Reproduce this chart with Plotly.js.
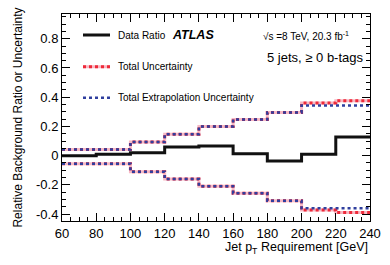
<!DOCTYPE html>
<html><head><meta charset="utf-8">
<script src="https://cdn.plot.ly/plotly-3.0.1.min.js"></script>
<style>html,body{margin:0;padding:0;background:#fff}#c{width:390px;height:265px}</style>
</head><body><div id="c"></div>
<script>
// Bin edges (Jet pT requirement, GeV)
const binEdges = [60, 80, 100, 120, 140, 160, 180, 200, 220, 240];
// Values per bin
const dataRatio   = [0.0, 0.01, 0.02, 0.06, 0.066, 0.013, -0.037, 0.009, 0.127];
const totalUp     = [0.042, 0.042, 0.093, 0.147, 0.2, 0.247, 0.295, 0.36, 0.375];
const totalDown   = [-0.055, -0.055, -0.11, -0.16, -0.21, -0.257, -0.308, -0.372, -0.389];
const extrapUp    = [0.042, 0.042, 0.093, 0.147, 0.2, 0.247, 0.295, 0.343, 0.343];
const extrapDown  = [-0.055, -0.055, -0.11, -0.16, -0.21, -0.257, -0.308, -0.359, -0.359];
const xTicks = [60, 80, 100, 120, 140, 160, 180, 200, 220, 240];
const yTicks = [-0.4, -0.2, 0, 0.2, 0.4, 0.6, 0.8];
const yTickText = ['-0.4', '-0.2', '0', '0.2', '0.4', '0.6', '0.8'];

function stepY(v){ return v.concat([v[v.length-1]]); }

const FONT = 'Liberation Sans, Arial, Helvetica, sans-serif';
const RED = '#ee2a3a', PINK = 'rgba(245,160,175,0.75)', BLUE = '#2f3f9e';

function st(y, color, width, dash){
  return {x: binEdges, y: stepY(y), type:'scatter', mode:'lines', line:{shape:'hv', color:color, width:width, dash:dash}, showlegend:false, hoverinfo:'skip'};
}
const traces = [
  st(totalUp, PINK, 3, 'solid'),
  st(totalDown, PINK, 3, 'solid'),
  st(totalUp, RED, 3, 'dot'),
  st(totalDown, RED, 3, 'dot'),
  st(extrapUp, BLUE, 2.5, '3px,3px'),
  st(extrapDown, BLUE, 2.5, '3px,3px'),
  st(dataRatio, '#111111', 3, 'solid')
];

const px = p => (p-62)/308, py = p => (221-p)/207;
const shapes = [
  {type:'line', xref:'paper', yref:'paper', x0:px(83), x1:px(110), y0:py(35), y1:py(35), line:{color:'#111', width:3}},
  {type:'line', xref:'paper', yref:'paper', x0:px(83), x1:px(110), y0:py(66.7), y1:py(66.7), line:{color:PINK, width:3}},
  {type:'line', xref:'paper', yref:'paper', x0:px(83), x1:px(110), y0:py(66.7), y1:py(66.7), line:{color:RED, width:3, dash:'dot'}},
  {type:'line', xref:'paper', yref:'paper', x0:px(83), x1:px(110), y0:py(97.7), y1:py(97.7), line:{color:BLUE, width:2.5, dash:'3px,3px'}}
];
function ann(text, x, y, size, extra){
  return Object.assign({text:text, xref:'paper', yref:'paper', x:x, y:y, xanchor:'left', yanchor:'middle', showarrow:false, font:{family:FONT, size:size, color:'#000'}}, extra||{});
}
const annotations = [
  ann('Data Ratio', px(116), py(35), 10),
  ann('<b><i>ATLAS</i></b>', px(170), py(35), 12.5),
  ann('Total Uncertainty', px(116), py(66.7), 10),
  ann('Total Extrapolation Uncertainty', px(116), py(97.7), 10),
  ann('√s =8 TeV, 20.3 fb<sup>-1</sup>', px(261), py(36), 10),
  ann('5 jets, ≥ 0 b-tags', px(265), py(57), 13),
  ann('Jet p<sub>T</sub> Requirement [GeV]', 1, py(248), 12.5, {xanchor:'right'})
];

const axisCommon = {showgrid:false, zeroline:false, showline:true, linecolor:'#000', linewidth:1, mirror:'ticks', ticks:'inside', ticklen:8, tickcolor:'#000', tickwidth:1, tickfont:{family:FONT, size:13, color:'#000'}};
const layout = {
  width:390, height:265, margin:{l:62, r:20, t:14, b:44},
  paper_bgcolor:'#fff', plot_bgcolor:'#fff', showlegend:false,
  xaxis: Object.assign({}, axisCommon, {range:[60,240], tickvals:xTicks, ticktext:xTicks.map(String), minor:{dtick:5, tick0:60, ticks:'inside', ticklen:4, tickcolor:'#000', showgrid:false}}),
  yaxis: Object.assign({}, axisCommon, {range:[-0.447, 0.969], tickvals:yTicks, ticktext:yTickText, minor:{dtick:0.05, tick0:0, ticks:'inside', ticklen:4, tickcolor:'#000', showgrid:false},
    title:{text:'Relative Background Ratio or Uncertainty', font:{family:FONT, size:12, color:'#000'}, standoff:10}}),
  shapes: shapes, annotations: annotations
};
Plotly.newPlot('c', traces, layout, {staticPlot:true, displayModeBar:false});
</script></body></html>
